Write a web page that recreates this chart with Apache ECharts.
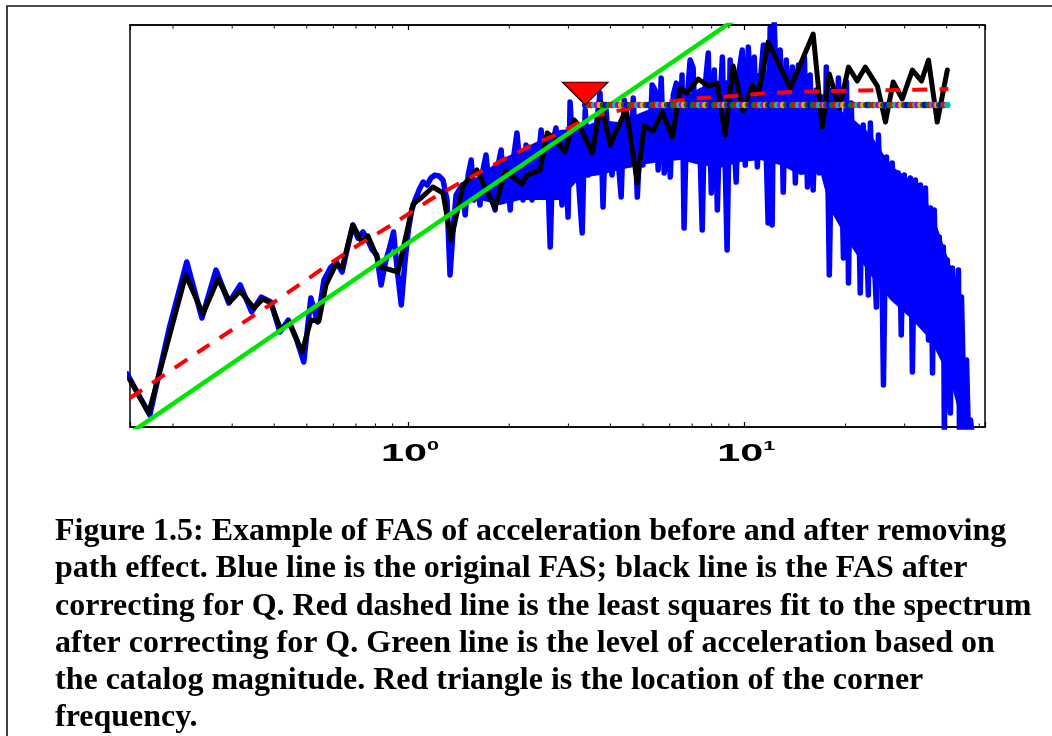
<!DOCTYPE html>
<html>
<head>
<meta charset="utf-8">
<script src="https://cdn.jsdelivr.net/npm/echarts@6/dist/echarts.min.js"></script>
<style>
  html, body { margin: 0; padding: 0; background: #ffffff; }
  #chart { width: 1052px; height: 736px; }
</style>
</head>
<body>
<div id="chart"></div>
<script>
// Fourier amplitude spectrum of acceleration, stored as [log10 f (Hz), log10 amplitude].

// Original FAS (blue)
const blueFAS = [
  [-0.835,-2.539],[-0.768,-2.896],[-0.710,-2.139],[-0.658,-1.565],[-0.613,-2.052],[-0.571,-1.635],
  [-0.533,-1.922],[-0.499,-1.765],[-0.465,-2.000],[-0.436,-1.870],[-0.408,-1.913],[-0.381,-2.174],
  [-0.356,-2.070],[-0.333,-2.226],[-0.310,-2.435],[-0.289,-1.878],[-0.269,-2.087],[-0.250,-1.722],
  [-0.231,-1.617],[-0.213,-1.565],[-0.196,-1.652],[-0.180,-1.443],[-0.164,-1.243],[-0.149,-1.357],
  [-0.134,-1.304],[-0.120,-1.374],[-0.106,-1.461],[-0.093,-1.504],[-0.080,-1.765],[-0.067,-1.565],
  [-0.055,-1.443],[-0.043,-1.304],[-0.032,-1.635],[-0.020,-1.939],[-0.010,-1.591],[0.001,-1.287],
  [0.011,-1.113],[0.021,-1.026],
  [0.033,-0.939],[0.045,-0.870],[0.057,-0.896],[0.068,-0.835],[0.080,-0.809],[0.092,-0.817],
  [0.104,-0.852],[0.116,-1.026],[0.125,-1.678],[0.134,-1.287],[0.143,-0.983],[0.152,-0.939],
  [0.161,-0.896],[0.170,-1.157],[0.179,-0.809],[0.188,-0.678],[0.196,-1.026],[0.205,-0.852],
  [0.214,-1.070],[0.223,-0.765],[0.232,-0.635],[0.241,-0.896],[0.250,-1.026],[0.259,-1.113],
  [0.268,-0.722],[0.277,-0.591],[0.286,-0.983],[0.295,-0.765],[0.304,-1.113],[0.313,-0.678],
  [0.324,-0.443],[0.333,-0.722],[0.342,-1.026],[0.351,-0.548],[0.360,-0.896],[0.369,-1.026],
  [0.378,-0.809],[0.387,-0.678],[0.396,-0.417],[0.405,-0.939],[0.414,-0.678],[0.423,-1.435],
  [0.432,-0.504],[0.440,-0.400],[0.449,-0.722],[0.458,-1.070],[0.467,-0.591],[0.476,-1.174],
  [0.482,-0.174],[0.491,-0.652],[0.500,-0.461],[0.509,-0.939],[0.518,-1.313],[0.527,-0.243],
  [0.536,-0.809],[0.545,-0.591],[0.554,-0.652],[0.562,-0.330],[0.571,-0.096],[0.580,-1.087],
  [0.589,-0.243],[0.598,-0.591],[0.607,-0.809],[0.616,-0.417],[0.625,-0.678],[0.634,-1.000],
  [0.643,-0.157],[0.652,-0.461],[0.661,-0.722],[0.670,-0.139],[0.682,-1.000],[0.690,-0.504],
  [0.699,-0.722],[0.708,-0.374],[0.717,-0.678],[0.726,-0.026],[0.735,-0.070],[0.744,-0.765],
  [0.753,0.035],[0.762,-0.791],[0.771,-0.330],[0.780,-0.826],[0.789,-0.113],[0.798,-0.009],
  [0.807,-0.591],[0.815,0.061],[0.821,-1.270],[0.830,-0.157],[0.839,0.191],[0.848,0.122],
  [0.857,-0.678],[0.866,-0.330],[0.875,-1.287],[0.884,-0.026],[0.893,0.252],[0.902,-0.965],
  [0.911,0.104],[0.920,-1.113],[0.929,-0.113],[0.935,0.217],[0.943,-0.678],[0.949,-1.461],
  [0.958,0.191],[0.967,-0.330],[0.976,-0.870],[0.985,0.104],[0.994,0.278],[1.003,-0.722],
  [1.012,0.304],[1.021,-0.157],[1.030,0.217],[1.039,-0.739],[1.048,0.017],[1.057,0.322],
  [1.065,-0.591],[1.071,-1.226],[1.077,0.470],[1.083,-1.243],[1.089,0.522],[1.098,-0.243],
  [1.107,0.278],[1.116,-0.957],[1.125,0.191],[1.134,-0.678],[1.143,0.130],[1.152,-0.878],
  [1.161,0.148],[1.170,-0.591],[1.179,0.209],[1.188,-0.913],[1.196,0.061],[1.205,-0.939],
  [1.214,-0.070],[1.223,-0.791],[1.232,-0.130],[1.241,-0.591],[1.244,0.130],[1.253,-1.678],
  [1.262,-0.070],[1.271,-1.026],[1.280,0.035],[1.289,-0.678],[1.295,-1.530],[1.304,0.000],
  [1.310,-1.748],[1.318,-0.183],[1.327,-1.026],[1.336,-0.391],[1.345,-1.835],[1.354,-0.374],
  [1.363,-1.200],[1.369,-1.852],[1.375,-0.357],[1.384,-1.374],[1.393,-1.957],[1.399,-0.461],
  [1.408,-1.287],[1.414,-2.635],[1.423,-0.652],[1.432,-1.748],[1.440,-0.704],[1.449,-1.896],
  [1.458,-0.791],[1.467,-2.200],[1.476,-0.809],[1.485,-1.809],[1.494,-0.835],[1.500,-2.522],
  [1.509,-0.852],[1.515,-2.009],[1.524,-0.896],[1.533,-1.896],[1.539,-0.922],[1.548,-2.243],
  [1.554,-1.096],[1.560,-2.530],[1.565,-1.113],[1.574,-2.217],[1.580,-1.348],[1.586,-1.896],
  [1.592,-1.435],[1.595,-3.026],[1.604,-1.548],[1.613,-2.878],[1.619,-1.617],[1.628,-2.591],
  [1.637,-1.635],[1.640,-3.026],[1.646,-1.870],[1.655,-3.026],[1.661,-2.417],[1.667,-3.113],
  [1.673,-2.939],[1.687,-3.300]
];

// Solid core of the densely sampled part of the blue spectrum: log10 f, upper and lower edge
const blueBandLogF   = [0.140, 0.214, 0.274, 0.333, 0.393, 0.452, 0.512, 0.571, 0.631, 0.690, 0.750, 0.810, 0.869, 0.929, 0.988, 1.048, 1.107, 1.167, 1.226, 1.256, 1.315, 1.375, 1.435, 1.494, 1.554, 1.613, 1.649];
const blueBandTop    = [-0.983, -0.809, -0.678, -0.591, -0.504, -0.417, -0.400, -0.330, -0.350, -0.270, -0.200, -0.150, -0.050, 0.000, 0.050, 0.080, 0.050, -0.020, -0.200, -0.200, -0.300, -0.450, -0.722, -0.852, -1.096, -1.591, -1.878];
const blueBandBottom = [-1.026, -1.026, -1.070, -1.026, -1.026, -1.026, -0.835, -0.809, -0.765, -0.722, -0.696, -0.678, -0.722, -0.748, -0.696, -0.678, -0.722, -0.809, -0.783, -1.113, -1.417, -1.678, -1.896, -2.052, -2.243, -2.591, -3.000];

// FAS after correcting for Q (black)
const correctedFAS = [
  [-0.827,-2.591],[-0.771,-2.878],[-0.661,-1.678],[-0.610,-2.017],[-0.565,-1.713],[-0.530,-1.913],
  [-0.500,-1.817],[-0.458,-1.965],[-0.432,-1.887],[-0.408,-1.922],[-0.378,-2.157],[-0.354,-2.087],
  [-0.315,-2.348],[-0.289,-2.070],[-0.265,-2.078],[-0.244,-1.765],[-0.214,-1.583],[-0.196,-1.617],
  [-0.164,-1.243],[-0.137,-1.391],[-0.119,-1.339],[-0.080,-1.609],[-0.030,-1.652],[0.015,-1.061],
  [0.042,-1.000],[0.074,-0.913],[0.104,-0.965],[0.128,-1.374],[0.164,-0.896],[0.205,-0.765],
  [0.259,-1.096],[0.289,-0.774],[0.339,-0.887],[0.354,-0.809],[0.393,-0.765],[0.414,-0.443],
  [0.440,-0.504],[0.467,-0.609],[0.494,-0.330],[0.512,-0.391],[0.548,-0.617],[0.574,-0.174],
  [0.601,-0.548],[0.649,-0.235],[0.682,-0.878],[0.702,-0.383],[0.729,-0.426],[0.756,-0.261],
  [0.786,-0.478],[0.810,-0.052],[0.830,-0.096],[0.863,0.026],[0.893,-0.035],[0.920,-0.009],
  [0.943,-0.461],[0.967,0.139],[0.997,-0.252],[1.024,-0.026],[1.042,-0.113],[1.071,0.348],
  [1.137,-0.052],[1.205,0.417],[1.232,-0.391],[1.253,0.070],[1.283,-0.226],[1.310,0.130],
  [1.336,0.009],[1.360,0.130],[1.396,-0.035],[1.420,-0.348],[1.443,0.000],[1.470,-0.148],
  [1.500,0.104],[1.527,0.009],[1.548,0.191],[1.574,-0.348],[1.604,0.104]
];

// Least squares fit to the corrected spectrum (red dashed)
const lsqFit = [
  [-0.827,-2.748],[-0.619,-2.339],[-0.411,-1.939],[-0.185,-1.487],[-0.045,-1.235],[0.080,-1.000],
  [0.220,-0.774],[0.363,-0.557],[0.438,-0.461],[0.548,-0.304],[0.667,-0.226],[0.765,-0.174],
  [0.875,-0.139],[0.973,-0.122],[1.071,-0.096],[1.256,-0.078],[1.440,-0.070],[1.607,-0.061]
];

// Acceleration level from the catalog magnitude (green)
const catalogLevel = [[-0.840,-3.080],[1.000,0.600]];

// Corner frequency and high-frequency plateau level
const cornerLogF = 0.527;
const plateauLogA = -0.2;
const plateauEndLogF = 1.607;

// Axis ranges and tick positions
const X_MIN = 0.149, X_MAX = 52;
const Y_MIN = 1e-3, Y_MAX = Math.pow(10, 0.496);
const decadeTicks = [1, 10];
const minorTicks = [0.2,0.3,0.4,0.5,0.6,0.7,0.8,0.9,2,3,4,5,6,7,8,9,20,30,40,50];
const lineColors = ['#0000ff','#008000','#ff0000','#00bfbf','#bf00bf','#bfbf00','#404040'];

const captionLines = [
  'Figure 1.5: Example of FAS of acceleration before and after removing',
  'path effect. Blue line is the original FAS; black line is the FAS after',
  'correcting for Q. Red dashed line is the least squares fit to the spectrum',
  'after correcting for Q. Green line is the level of acceleration based on',
  'the catalog magnitude. Red triangle is the location of the corner',
  'frequency.'
];

const toLin = p => [Math.pow(10, p[0]), Math.pow(10, p[1])];
const plateauDots = blueFAS
  .filter(p => p[0] >= cornerLogF - 1e-9 && p[0] <= plateauEndLogF + 1e-9)
  .map(p => [Math.pow(10, p[0]), Math.pow(10, plateauLogA)]);

const chart = echarts.init(document.getElementById('chart'), null, { renderer: 'canvas' });

const lineBase = { type: 'line', showSymbol: false, symbol: 'none', clip: true, silent: true, animation: false };
const edgeAxis = pos => ({
  type: 'log', logBase: 10, min: X_MIN, max: X_MAX, position: pos,
  axisLine: { show: true, onZero: false, lineStyle: { color: '#000', width: 1.5 } },
  axisTick: { show: true, inside: true, length: 5, lineStyle: { color: '#000', width: 1.2 } },
  splitLine: { show: false },
  axisLabel: { show: false }
});

chart.setOption({
  animation: false,
  backgroundColor: '#ffffff',
  grid: {
    left: 130, top: 25, width: 855, height: 402,
    show: true, borderColor: '#000', borderWidth: 1.5, backgroundColor: 'transparent',
    containLabel: false, outerBoundsMode: 'none'
  },
  xAxis: [edgeAxis('bottom'), edgeAxis('top')],
  yAxis: {
    type: 'log', logBase: 10, min: Y_MIN, max: Y_MAX,
    axisLine: { show: false }, axisTick: { show: false }, axisLabel: { show: false }, splitLine: { show: false }
  },
  series: [
    {
      // minor log ticks on the bottom and top edges
      type: 'custom', silent: true, clip: false, z: 5,
      data: minorTicks.map(f => [f, Y_MIN]),
      encode: { x: 0, y: 1 },
      renderItem: (params, api) => {
        const x = api.coord([api.value(0), Y_MIN])[0];
        const cs = params.coordSys;
        return {
          type: 'group',
          children: [
            { type: 'line', shape: { x1: x, y1: cs.y + cs.height, x2: x, y2: cs.y + cs.height - 3.5 }, style: { stroke: '#000', lineWidth: 1 } },
            { type: 'line', shape: { x1: x, y1: cs.y, x2: x, y2: cs.y + 3.5 }, style: { stroke: '#000', lineWidth: 1 } }
          ]
        };
      }
    },
    {
      // filled core of the dense blue spectrum
      type: 'custom', silent: true, clip: true, z: 2,
      data: [[X_MIN, Y_MIN]],
      encode: { x: 0, y: 1 },
      renderItem: (params, api) => {
        const top = blueBandLogF.map((lf, i) => api.coord(toLin([lf, blueBandTop[i]])));
        const bottom = blueBandLogF.map((lf, i) => api.coord(toLin([lf, blueBandBottom[i]]))).reverse();
        return { type: 'polygon', shape: { points: top.concat(bottom) }, style: { fill: '#0000ff' } };
      }
    },
    Object.assign({}, lineBase, {
      name: 'Original FAS', z: 2, data: blueFAS.map(toLin),
      lineStyle: { color: '#0000ff', width: 5.5, join: 'round', cap: 'round' }
    }),
    Object.assign({}, lineBase, {
      name: 'Corrected FAS', z: 3, data: correctedFAS.map(toLin),
      lineStyle: { color: '#000000', width: 5, join: 'round', cap: 'round' }
    }),
    Object.assign({}, lineBase, {
      name: 'Least squares fit', z: 4, smooth: 0.3, data: lsqFit.map(toLin),
      lineStyle: { color: '#ff0000', width: 4, type: [15, 12], cap: 'butt' }
    }),
    Object.assign({}, lineBase, {
      name: 'Catalog magnitude level', z: 4, data: catalogLevel.map(toLin),
      lineStyle: { color: '#00e600', width: 4.5 }
    }),
    {
      name: 'Plateau level', type: 'scatter', z: 6, silent: true, symbol: 'circle', symbolSize: 6.5,
      data: plateauDots,
      itemStyle: { color: p => lineColors[p.dataIndex % lineColors.length], opacity: 1 }
    },
    {
      name: 'Corner frequency', type: 'scatter', z: 7, silent: true,
      symbol: 'triangle', symbolRotate: 180, symbolSize: [46, 23], symbolOffset: [0, -11.5],
      data: [[Math.pow(10, cornerLogF), Math.pow(10, plateauLogA)]],
      itemStyle: { color: '#ff0000', borderColor: '#000', borderWidth: 1, opacity: 1 }
    }
  ]
});

// Decade labels (10^0, 10^1) placed through the x axis scale, in a wide bold face
const labelRich = {
  b: { fontFamily: 'Liberation Sans', fontWeight: 'bold', fontSize: 23, lineHeight: 27, fill: '#000' },
  s: { fontFamily: 'Liberation Sans', fontWeight: 'bold', fontSize: 12, lineHeight: 12, verticalAlign: 'top', fill: '#000' }
};
const decadeLabels = decadeTicks.map(d => {
  const px = chart.convertToPixel({ xAxisIndex: 0 }, d);
  return {
    type: 'text', silent: true, x: px - 27, y: 441, scaleX: 1.8,
    style: { text: '{b|10}{s|' + Math.round(Math.log10(d)) + '}', rich: labelRich, fill: '#000' }
  };
});

chart.setOption({
  graphic: [
    {
      type: 'polyline', silent: true,
      shape: { points: [[7, 737], [7, 6], [1053, 6]] },
      style: { stroke: '#111', lineWidth: 1.6, fill: null }
    }
  ].concat(decadeLabels).concat(captionLines.map((t, i) => ({
    type: 'text', silent: true, left: 55, top: 516 + i * 37.2,
    style: { text: t, fontFamily: 'Liberation Serif', fontWeight: 'bold', fontSize: 32, fill: '#000' }
  })))
});
</script>
</body>
</html>
